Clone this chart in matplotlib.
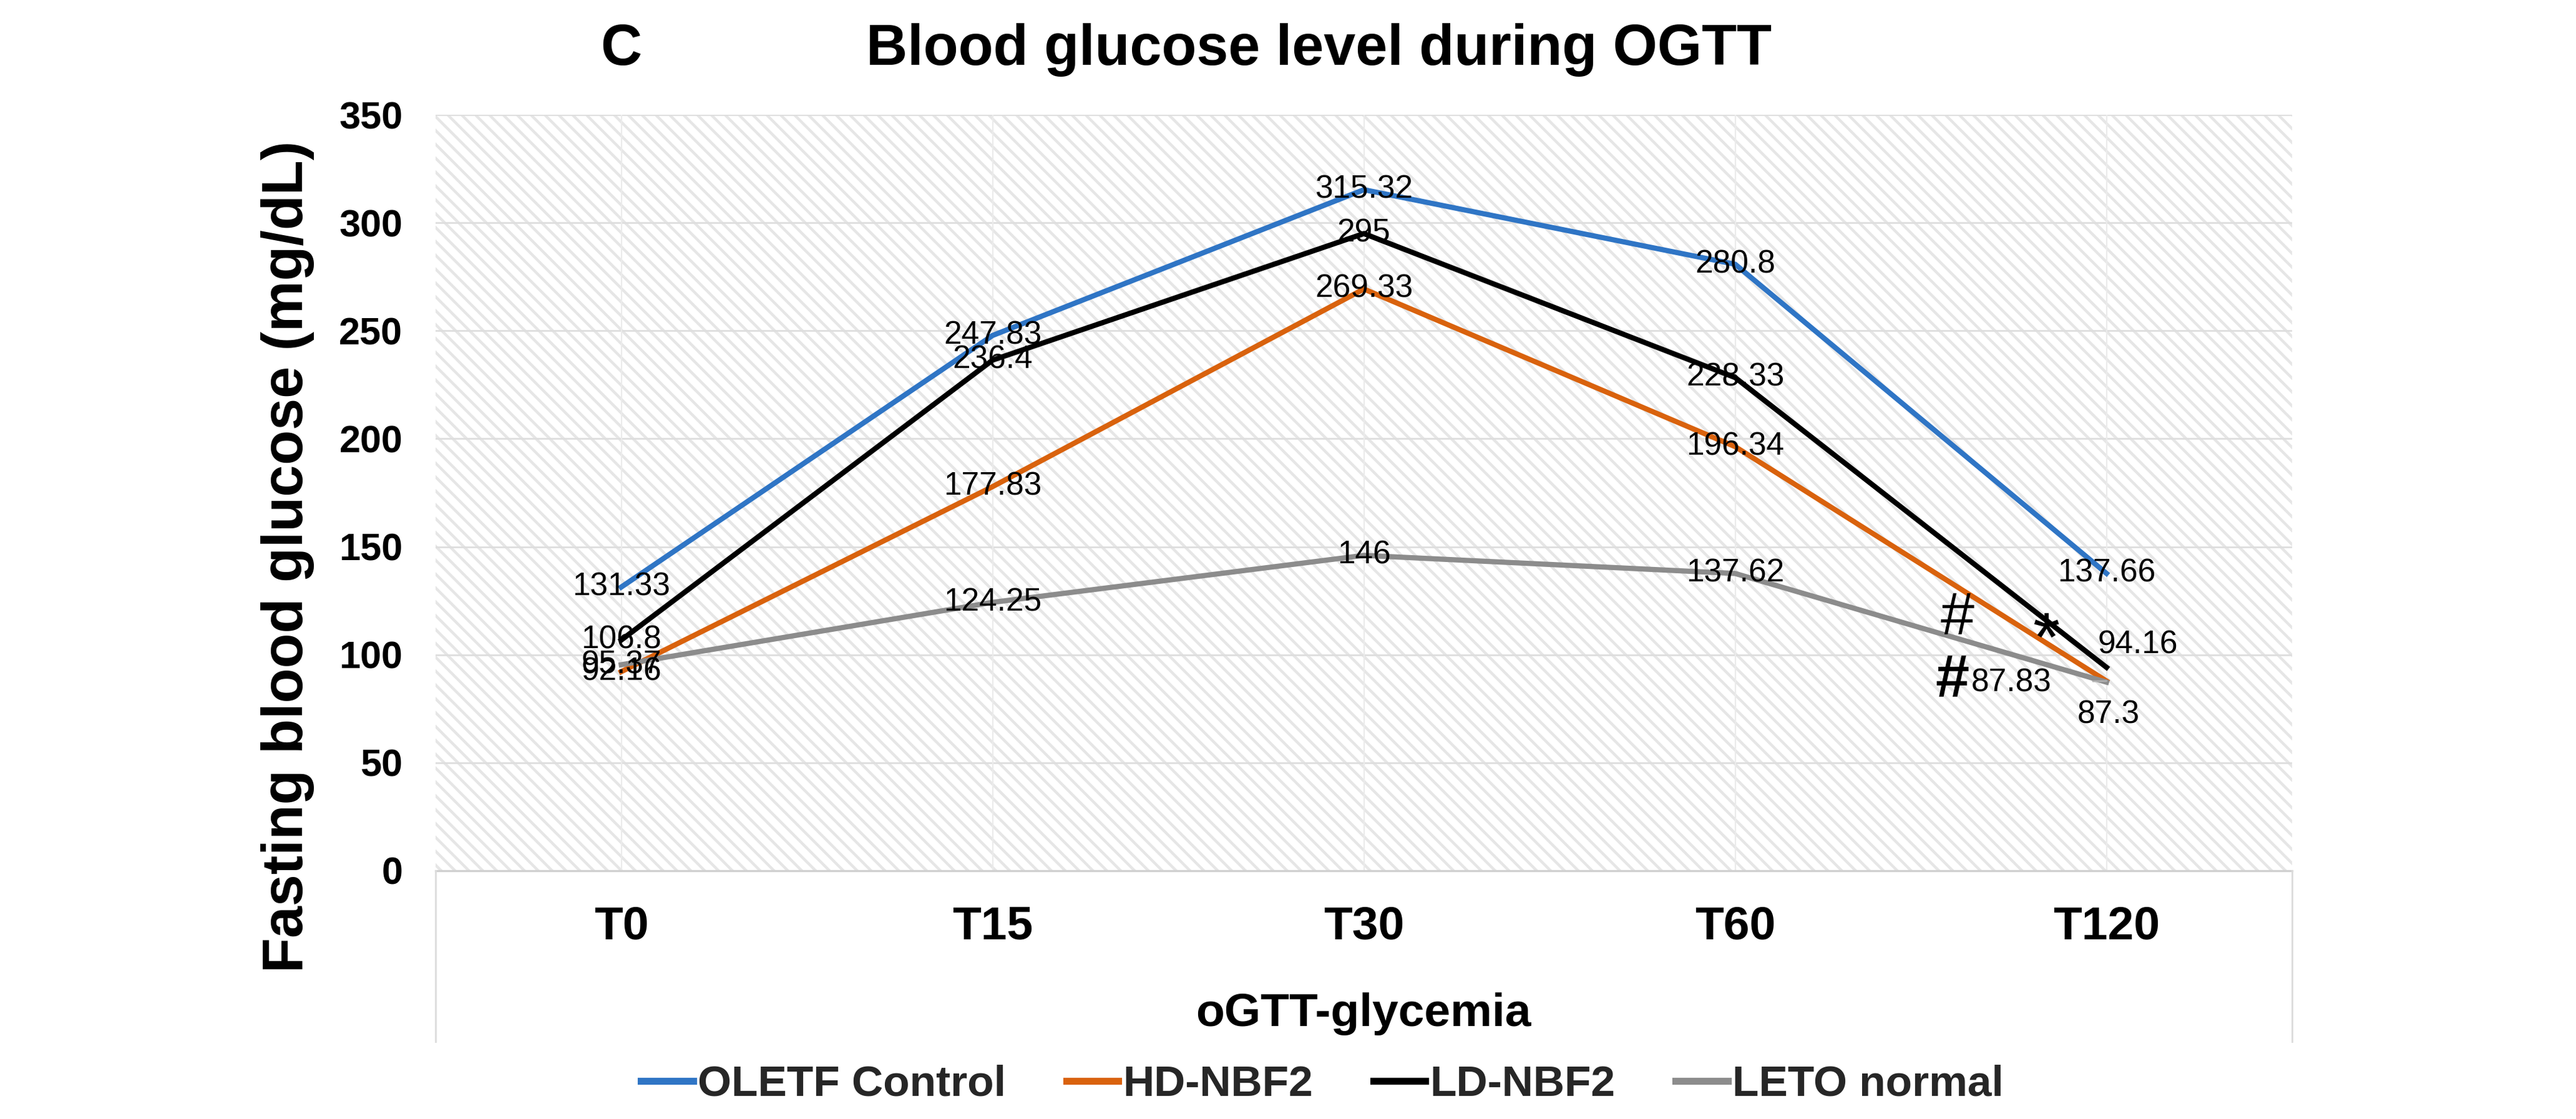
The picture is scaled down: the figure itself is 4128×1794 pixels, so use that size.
import numpy as np
import matplotlib
matplotlib.use('Agg')
import matplotlib.pyplot as plt
from matplotlib.patches import Rectangle
from matplotlib.lines import Line2D

plt.rcParams['font.family'] = ['Liberation Sans', 'DejaVu Sans']
plt.rcParams['hatch.linewidth'] = 1.6

# Valeurs
timepoints = ['T0', 'T15', 'T30', 'T60', 'T120']
oletf_control = [131.33, 247.83, 315.32, 280.8, 137.66]
hd_nbf2 = [92.16, 177.83, 269.33, 196.34, 87.83]
ld_nbf2 = [106.8, 236.4, 295, 228.33, 94.16]
leto_normal = [95.37, 124.25, 146, 137.62, 87.3]
series_names = ['OLETF Control', 'HD-NBF2', 'LD-NBF2', 'LETO normal']
yticks = [0, 50, 100, 150, 200, 250, 300, 350]

colors = ['#2F75C5', '#D9620D', '#000000', '#8C8C8C']
all_series = [oletf_control, hd_nbf2, ld_nbf2, leto_normal]

fig = plt.figure(figsize=(20.64, 8.97), dpi=200)
ax = fig.add_axes([0.1691, 0.2219, 0.7207, 0.6755])

# Fond hachure fin
bg = Rectangle((0, 0), 1, 1, transform=ax.transAxes, facecolor='white',
               edgecolor='#e6e6e6', hatch='\\\\\\', linewidth=0, zorder=0)
ax.add_patch(bg)

x = np.arange(len(timepoints))
ax.set_xlim(-0.5, len(timepoints) - 0.5)
ax.set_ylim(0, 350)

for yv in yticks[1:]:
    ax.axhline(yv, color='#dedede', lw=1.0, zorder=1)
for xv in x:
    ax.axvline(xv, color='#ebebeb', lw=0.8, zorder=1)

for vals, name, c in zip(all_series, series_names, colors):
    ax.plot(x, vals, color=c, lw=3.0, label=name, zorder=3, solid_joinstyle='round')

# Etiquettes de donnees (centrees sur le point, sauf quelques unes a T120)
special = {
    (2, 4): (18, 13),
    (3, 4): (1, -19),
}
for si, vals in enumerate(all_series):
    for i, v in enumerate(vals):
        lab = f'{v:g}'
        if (si, i) == (1, 4):
            ax.annotate(lab, xy=(x[i], v), xytext=(-55, -1), textcoords='offset points',
                        ha='center', va='center', fontsize=18.5, zorder=5,
                        arrowprops=dict(arrowstyle='-', color='#b0b0b0', lw=1.0,
                                        shrinkA=22, shrinkB=0))
            continue
        dx, dy = special.get((si, i), (0, 0))
        ax.annotate(lab, xy=(x[i], v), xytext=(dx, dy), textcoords='offset points',
                    ha='center', va='center', fontsize=18.5, zorder=5)

# Marques de significativite
ax.annotate('#', xy=(x[4], hd_nbf2[4]), xytext=(-86, 36), textcoords='offset points',
            ha='center', va='center', fontsize=35, zorder=5)
ax.annotate('#', xy=(x[4], hd_nbf2[4]), xytext=(-89, 0), textcoords='offset points',
            ha='center', va='center', fontsize=35, fontweight='bold', zorder=5)
ax.annotate('*', xy=(x[4], ld_nbf2[4]), xytext=(-35, 14), textcoords='offset points',
            ha='center', va='center', fontsize=40, zorder=5)

ax.set_xticks(x)
ax.set_xticklabels(timepoints, fontsize=27, fontweight='bold')
ax.set_yticks(yticks)
ax.set_yticklabels([str(t) for t in yticks], fontsize=22, fontweight='bold')
ax.tick_params(axis='both', length=0)
ax.tick_params(axis='x', pad=20)
ax.tick_params(axis='y', pad=19)

for s in ['top', 'left', 'right']:
    ax.spines[s].set_visible(False)
ax.spines['bottom'].set_color('#d0d0d0')
ax.spines['bottom'].set_linewidth(1.2)
ax.spines['bottom'].set_zorder(2)

# Bordure de la zone de trace prolongee sous l'axe
for xf in [0.1691, 0.8898]:
    fig.add_artist(Line2D([xf, xf], [0.069, 0.2219], color='#dcdcdc', lw=1.0))

fig.text(0.1117, 0.5028, 'Fasting blood glucose (mg/dL)', rotation=90,
         ha='center', va='center', fontsize=33, fontweight='bold')
fig.text(0.5293, 0.0942, 'oGTT-glycemia', ha='center', va='center',
         fontsize=27, fontweight='bold')
fig.text(0.5119, 0.9554, 'Blood glucose level during OGTT', ha='center', va='center',
         fontsize=33, fontweight='bold')
fig.text(0.241, 0.9554, 'C', ha='center', va='center', fontsize=33, fontweight='bold')

leg = fig.legend(loc='center', bbox_to_anchor=(0.5133, 0.0307), ncol=4, frameon=False,
                 handlelength=1.2, handletextpad=0.1, columnspacing=1.4,
                 prop={'weight': 'bold', 'size': 25})
for h in leg.get_lines():
    h.set_linewidth(4)
for t in leg.get_texts():
    t.set_color('#262626')

fig.savefig('out.png', dpi=200)
